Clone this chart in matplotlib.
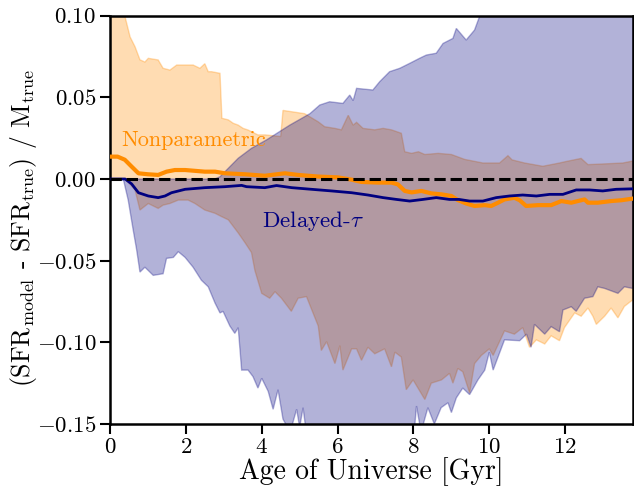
import numpy as np
import matplotlib
matplotlib.use('Agg')
import matplotlib.pyplot as plt

plt.rcParams['font.family'] = 'cmr10'
plt.rcParams['mathtext.fontset'] = 'cm'
plt.rcParams['axes.formatter.use_mathtext'] = True

# medians
np_med_x = [0.0, 0.2, 0.39, 0.57, 0.75, 1.0, 1.27, 1.49, 1.71, 1.98, 2.24, 2.5, 2.77, 3.03, 3.56, 4.08,
            4.61, 4.96, 5.49, 6.01, 6.37, 6.63, 7.07, 7.42, 7.59, 7.77, 7.95, 8.21, 8.47, 8.74, 9.0, 9.17,
            9.39, 9.61, 9.88, 10.05, 10.23, 10.4, 10.66, 10.8, 10.97, 11.28, 11.63, 11.9, 12.16, 12.51,
            12.6, 12.86, 13.21, 13.48, 13.78]
np_med_y = [0.0137, 0.0137, 0.0118, 0.0076, 0.0035, 0.0029, 0.0025, 0.0045, 0.0055, 0.0055, 0.005, 0.0045,
            0.0045, 0.0035, 0.0029, 0.002, 0.0035, 0.0025, 0.0015, 0.001, -0.0004, -0.0018, -0.0022, -0.0022,
            -0.0033, -0.0073, -0.0082, -0.0073, -0.0088, -0.0094, -0.0104, -0.0129, -0.015, -0.0165, -0.016,
            -0.0165, -0.0145, -0.0125, -0.0115, -0.013, -0.0165, -0.016, -0.016, -0.0135, -0.0145, -0.0125,
            -0.0145, -0.0145, -0.0135, -0.013, -0.012]

dt_med_x = [0.0, 0.4, 0.57, 0.75, 1.01, 1.27, 1.45, 1.62, 1.98, 2.5, 3.03, 3.47, 3.6, 4.08, 4.39, 4.79, 5.31,
            5.84, 6.37, 6.8, 7.2, 7.55, 7.9, 8.25, 8.6, 8.95, 9.2, 9.48, 9.83, 10.18, 10.53, 10.88, 11.24,
            11.59, 11.94, 12.29, 12.64, 12.99, 13.34, 13.78]
dt_med_y = [0.0, 0.0, -0.003, -0.0084, -0.0104, -0.0114, -0.0104, -0.0084, -0.0063, -0.0053, -0.0047, -0.0039,
            -0.0047, -0.0053, -0.004, -0.0053, -0.0063, -0.0073, -0.0084, -0.0098, -0.0114, -0.0125, -0.0135,
            -0.0125, -0.0114, -0.0125, -0.0125, -0.0135, -0.0135, -0.0114, -0.0104, -0.0098, -0.0104, -0.0094,
            -0.0094, -0.0067, -0.0067, -0.0073, -0.0063, -0.006]

# nonparametric band
np_hi_x = [0.0, 0.39, 0.53, 0.66, 0.79, 0.92, 1.01, 1.27, 1.40, 1.58, 1.76, 1.98, 2.19, 2.37, 2.50, 2.59, 2.68,
           2.90, 2.95, 3.12, 3.25, 3.38, 3.51, 3.64, 3.90, 4.10, 4.50, 4.56, 5.13, 5.49, 5.66, 5.93, 6.10, 6.28,
           6.41, 6.50, 6.67, 6.98, 7.20, 7.42, 7.68, 7.77, 7.95, 8.13, 8.30, 8.65, 9.0, 9.35, 9.83, 10.27,
           10.49, 10.6, 10.93, 11.41, 11.85, 12.0, 12.42, 12.6, 13.17, 13.52, 13.78]
np_hi_y = [0.12, 0.10, 0.087, 0.081, 0.073, 0.0716, 0.0739, 0.0729, 0.0678, 0.0667, 0.0698, 0.0698, 0.0698,
           0.0678, 0.0706, 0.0657, 0.0657, 0.0647, 0.0372, 0.0362, 0.0341, 0.033, 0.031, 0.030, 0.027, 0.027,
           0.026, 0.042, 0.040, 0.035, 0.032, 0.031, 0.0301, 0.039, 0.033, 0.0347, 0.031, 0.0301, 0.031,
           0.0301, 0.028, 0.0167, 0.0157, 0.0167, 0.015, 0.0157, 0.015, 0.012, 0.0098, 0.0098, 0.0143, 0.0117,
           0.0098, 0.0078, 0.0098, 0.0106, 0.0126, 0.0088, 0.0094, 0.0098, 0.011]
np_lo_x = [0.0, 0.4, 0.66, 0.79, 1.01, 1.27, 1.40, 1.58, 1.80, 2.06, 2.24, 2.50, 2.77, 2.94, 3.12, 3.38, 3.56,
           3.73, 3.82, 4.0, 4.21, 4.35, 4.52, 4.78, 4.96, 5.18, 5.49, 5.57, 5.71, 5.93, 6.06, 6.14, 6.37, 6.50,
           6.63, 6.80, 6.98, 7.24, 7.42, 7.51, 7.68, 7.81, 7.99, 8.30, 8.47, 8.74, 8.95, 9.04, 9.17, 9.3, 9.48,
           9.61, 9.79, 10.0, 10.1, 10.4, 10.66, 10.88, 11.06, 11.24, 11.46, 11.63, 11.85, 11.98, 12.25, 12.42,
           12.6, 12.73, 12.82, 13.04, 13.21, 13.39, 13.56, 13.78]
np_lo_y = [0.0, 0.0, -0.0067, -0.019, -0.015, -0.018, -0.016, -0.015, -0.0129, -0.0129, -0.015, -0.019, -0.021,
           -0.023, -0.025, -0.033, -0.039, -0.045, -0.056, -0.070, -0.073, -0.069, -0.073, -0.081, -0.073,
           -0.072, -0.090, -0.105, -0.0996, -0.113, -0.102, -0.117, -0.104, -0.104, -0.111, -0.103, -0.107,
           -0.104, -0.115, -0.106, -0.109, -0.129, -0.123, -0.135, -0.125, -0.123, -0.119, -0.125, -0.116,
           -0.118, -0.131, -0.113, -0.108, -0.104, -0.108, -0.093, -0.095, -0.091, -0.103, -0.0985, -0.101,
           -0.096, -0.099, -0.091, -0.082, -0.084, -0.079, -0.084, -0.089, -0.084, -0.079, -0.085, -0.078, -0.074]

# delayed-tau band
dt_hi_x = [0.0, 0.4, 1.0, 2.0, 2.76, 2.9, 3.38, 3.73, 4.13, 4.74, 5.27, 5.53, 5.79, 6.14, 6.32, 6.41, 6.50,
           6.93, 7.11, 7.37, 7.64, 7.90, 8.16, 8.34, 8.6, 8.78, 9.04, 9.13, 9.39, 9.61, 9.74, 10.0, 11.0, 12.0,
           13.0, 13.78]
dt_hi_y = [0.0, 0.0, 0.0, 0.0, 0.0, 0.0014, 0.0127, 0.0188, 0.024, 0.033, 0.040, 0.0453, 0.0473, 0.0463,
           0.0514, 0.048, 0.0555, 0.0545, 0.0596, 0.0657, 0.0678, 0.0708, 0.0739, 0.0759, 0.077, 0.083, 0.0861,
           0.0922, 0.0851, 0.0912, 0.0994, 0.11, 0.13, 0.15, 0.16, 0.17]
dt_lo_x = [0.0, 0.35, 0.48, 0.61, 0.70, 0.79, 0.92, 1.14, 1.40, 1.49, 1.67, 1.80, 1.98, 2.19, 2.41, 2.59, 2.77,
           2.90, 2.98, 3.16, 3.29, 3.38, 3.47, 3.64, 3.77, 3.90, 4.0, 4.17, 4.30, 4.43, 4.56, 4.75, 4.92, 5.0,
           5.09, 5.2, 6.0, 7.0, 8.0, 8.08, 8.2, 8.38, 8.55, 8.73, 8.91, 9.0, 9.13, 9.30, 9.48, 9.70, 9.88, 10.0,
           10.1, 10.4, 10.8, 10.98, 11.1, 11.19, 11.46, 11.63, 11.85, 11.94, 12.16, 12.29, 12.51, 12.73, 12.86,
           13.04, 13.39, 13.56, 13.78]
dt_lo_y = [0.0, 0.0, -0.0129, -0.031, -0.043, -0.057, -0.054, -0.059, -0.058, -0.0486, -0.048, -0.0445, -0.048,
           -0.054, -0.062, -0.066, -0.076, -0.082, -0.081, -0.090, -0.0945, -0.091, -0.117, -0.117, -0.121,
           -0.128, -0.122, -0.130, -0.141, -0.129, -0.147, -0.155, -0.141, -0.152, -0.140, -0.16, -0.17, -0.17,
           -0.16, -0.139, -0.155, -0.140, -0.150, -0.140, -0.137, -0.143, -0.134, -0.128, -0.132, -0.123,
           -0.117, -0.106, -0.117, -0.0985, -0.099, -0.095, -0.103, -0.089, -0.095, -0.0904, -0.0935, -0.0802,
           -0.0782, -0.081, -0.073, -0.072, -0.066, -0.067, -0.070, -0.066, -0.067]

fig = plt.figure(figsize=(6.34, 4.9), dpi=100)
ax = fig.add_axes([0.1735, 0.1347, 0.8245, 0.8333])

# bands as polygons: upper edge then lower edge reversed
ax.fill(np.concatenate([np_hi_x, np_lo_x[::-1]]), np.concatenate([np_hi_y, np_lo_y[::-1]]),
        color='darkorange', alpha=0.3, lw=1)
ax.fill(np.concatenate([dt_hi_x, dt_lo_x[::-1]]), np.concatenate([dt_hi_y, dt_lo_y[::-1]]),
        color='navy', alpha=0.3, lw=1)

ax.plot(np_med_x, np_med_y, color='darkorange', lw=3.0, zorder=3)
ax.plot(dt_med_x, dt_med_y, color='navy', lw=2.0, zorder=3)
ax.axhline(0, color='black', ls='--', lw=2.2, zorder=4)

ax.text(0.3, 0.024, 'Nonparametric', color='darkorange', fontsize=16, va='center')
ax.text(4.0, -0.0255, r'Delayed-$\tau$', color='navy', fontsize=16.5, va='center')

ax.set_xlim(0, 13.78)
ax.set_ylim(-0.15, 0.10)
ax.set_xticks([0, 2, 4, 6, 8, 10, 12])
ax.set_yticks([-0.15, -0.10, -0.05, 0.0, 0.05, 0.10])
ax.xaxis.set_major_formatter(matplotlib.ticker.FuncFormatter(lambda v, p: r'$%d$' % v))
ax.yaxis.set_major_formatter(matplotlib.ticker.FuncFormatter(lambda v, p: r'$%.2f$' % v))
ax.tick_params(labelsize=16.5, width=1.5, length=7, direction='out', pad=3)
for s in ax.spines.values():
    s.set_linewidth(1.8)

ax.set_xlabel('Age of Universe [Gyr]', fontsize=20, labelpad=0)
ax.set_ylabel(r'(SFR$_{\rm model}$ - SFR$_{\rm true}$) / M$_{\rm true}$', fontsize=18.5)
ax.yaxis.set_label_coords(-0.136, 0.48)

fig.savefig('out.png', dpi=100)
